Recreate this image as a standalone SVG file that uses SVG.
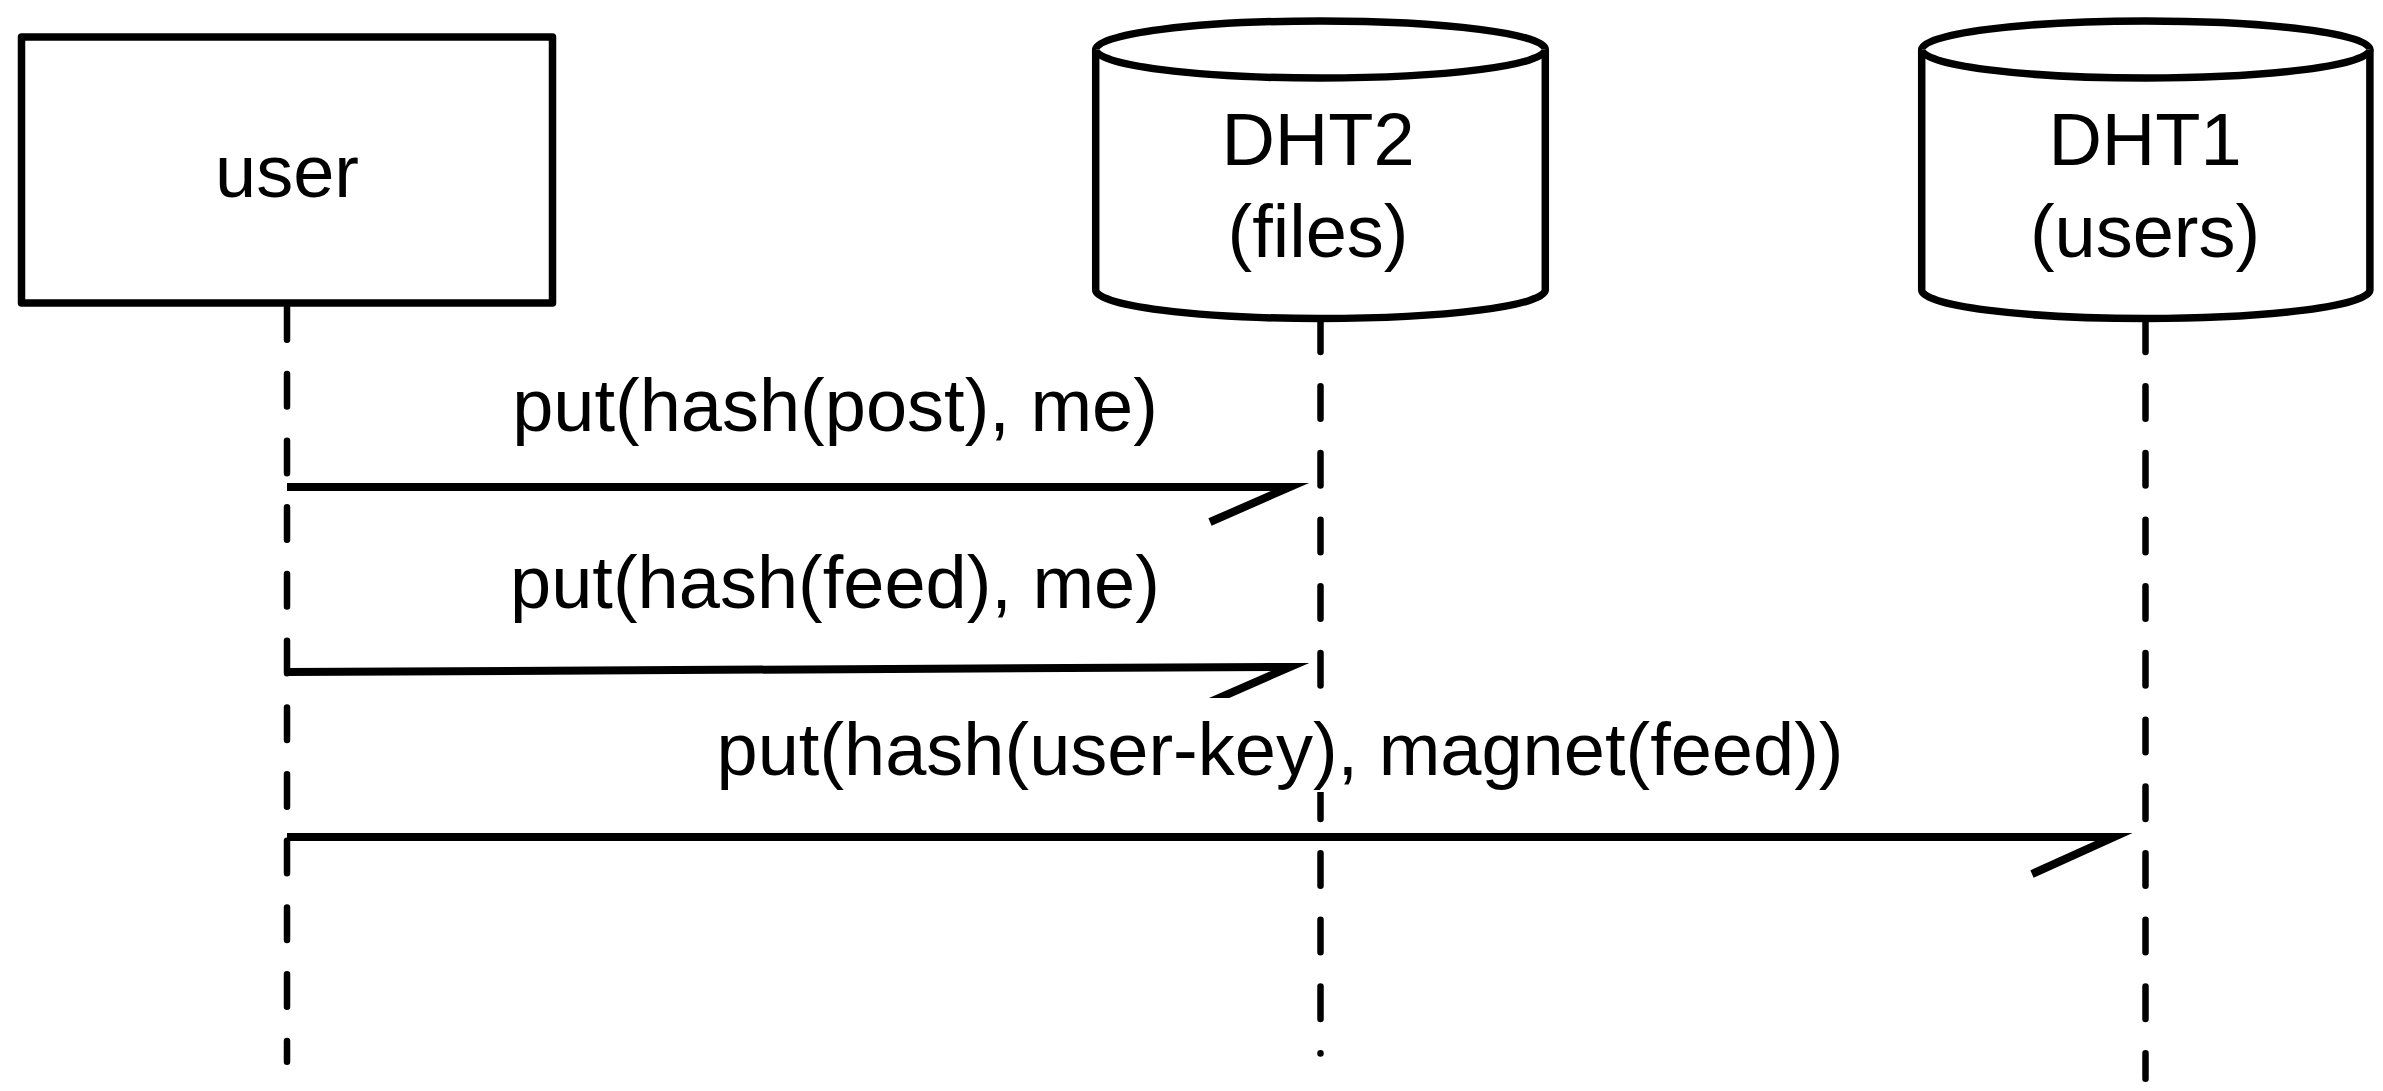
<svg xmlns="http://www.w3.org/2000/svg" width="2383" height="1091" viewBox="0 0 2383 1091">
<style>
.shape{fill:#fff;stroke:#000;stroke-width:7.5;stroke-linejoin:round}
.life{fill:none;stroke:#000;stroke-width:6.5;stroke-linecap:round;stroke-dasharray:32.5 34.2}
.msg{fill:none;stroke:#000;stroke-width:8;stroke-linejoin:miter;stroke-miterlimit:20}
.t{font-family:"Liberation Sans",Arial,Helvetica,sans-serif;font-size:74px;fill:#000;text-anchor:middle}
</style>
<rect width="2383" height="1091" fill="#fff"/>
<g id="lifelines">
<path class="life" d="M287,307.25 L287,1061.75"/>
<path class="life" d="M1320.5,319.55 L1320.5,1053.5"/>
<path class="life" d="M2145.5,319.55 L2145.5,1078.75"/>
</g>
<g id="user">
<rect class="shape" x="21.5" y="37" width="531" height="266"/>
<text class="t" x="287" y="197">user</text>
</g>
<g id="dht2">
<path class="shape" d="M1095.7,49.5 L1095.7,290 A224.8,28.5 0 0 0 1545.3,290 L1545.3,49.5 A224.8,28.5 0 0 0 1095.7,49.5 Z"/>
<path class="shape" fill="none" d="M1095.7,49.5 A224.8,28.5 0 0 0 1545.3,49.5"/>
<text class="t" x="1318" y="165">DHT2</text>
<text class="t" x="1318" y="257">(files)</text>
</g>
<g id="dht1">
<path class="shape" d="M1921.7,49.5 L1921.7,290 A224.1,28.5 0 0 0 2369.9,290 L2369.9,49.5 A224.1,28.5 0 0 0 1921.7,49.5 Z"/>
<path class="shape" fill="none" d="M1921.7,49.5 A224.1,28.5 0 0 0 2369.9,49.5"/>
<text class="t" x="2145" y="165">DHT1</text>
<text class="t" x="2145" y="257">(users)</text>
</g>
<g id="connectors">
<path class="msg" d="M287,487 L1290,487 L1210,522"/>
<path class="msg" d="M287,672 L1290,667 L1210,702"/>
<path class="msg" d="M287,837 L2114,837 L2032,874"/>
</g>
<g id="labels">
<text class="t" x="835" y="431">put(hash(post), me)</text>
<text class="t" x="835" y="608">put(hash(feed), me)</text>
<rect x="706" y="698" width="1148" height="94" fill="#fff"/>
<text class="t" x="1280" y="775">put(hash(user-key), magnet(feed))</text>
</g>
</svg>
